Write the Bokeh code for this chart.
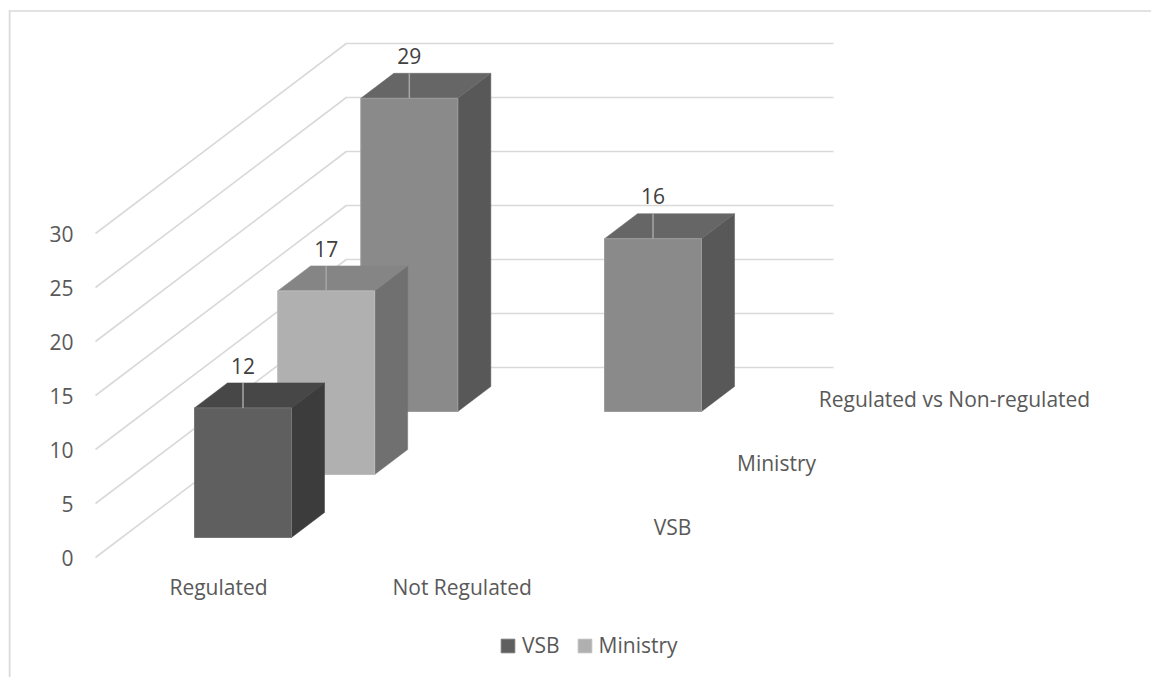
from bokeh.plotting import figure
from bokeh.models import Range1d, Legend, LegendItem, FixedTicker
from bokeh.core.properties import value
from bokeh.embed import file_html
from bokeh.resources import INLINE

# ---- chart data
categories = ["Regulated", "Not Regulated"]
series_names = ["VSB", "Ministry", "Regulated vs Non-regulated"]
vsb = [12, None]
ministry = [17, None]
reg_vs_non = [29, 16]
series_values = [vsb, ministry, reg_vs_non]
y_ticks = [0, 5, 10, 15, 20, 25, 30]

# ---- colours per series: front, top, side, front edge
front_cols = ["#5f5f5f", "#b0b0b0", "#8a8a8a"]
top_cols = ["#474747", "#858585", "#666666"]
side_cols = ["#3c3c3c", "#707070", "#585858"]
edge_cols = ["#767676", "#bdbdbd", "#9c9c9c"]
GRID = "#d9d9d9"
TXT = "#595959"
LBL = "#404040"
FONT = value("Open Sans")
FS = "21px"

# ---- projection (x axis in page pixels, y axis in chart values)
UNIT = 10.8          # px per value unit
Y0 = 557             # page y of value 0 on the front plane
SHEAR = 1.32         # x shift per px of depth
FLOOR_X0 = 95
WALL_D = 190         # depth of back wall, px
WALL_END = 833
BAR_W = 97
BAR_D = 25           # depth of one bar, px
FIRST_D = 20         # depth of the first bar's front
STEP_D = 63          # depth between series
FIRST_X = 167.6
CAT_STEP = 243.7
W, H = 1151, 677
LEFT = 8


def px(py):
    return (Y0 - py) / UNIT


def pt(x, v, d):
    """Point at screen-x x, value v, depth d px."""
    return x + SHEAR * d, v + d / UNIT


p = figure(width=W, height=H, output_backend="svg", toolbar_location=None,
           x_range=Range1d(LEFT, W), y_range=Range1d(px(H), px(0)),
           min_border_left=LEFT, min_border_right=0, min_border_top=0, min_border_bottom=0,
           x_axis_location=None, background_fill_color="white", border_fill_color="white",
           outline_line_color=None)
p.xgrid.visible = False
p.ygrid.visible = False

# value axis: its labels sit inside the frame, as in the original
ax = p.yaxis[0]
ax.ticker = FixedTicker(ticks=y_ticks)
ax.axis_line_color = None
ax.major_tick_line_color = None
ax.minor_tick_line_color = None
ax.major_label_standoff = -71
ax.major_label_text_font = "Open Sans"
ax.major_label_text_font_size = FS
ax.major_label_text_color = TXT

# chart box: left and top edges
p.line([LEFT + 1, LEFT + 1], [px(H), px(10.5)], line_color=GRID, line_width=2)
p.line([LEFT, W], [px(10.5), px(10.5)], line_color=GRID, line_width=1.5)

# gridlines: floor-to-wall diagonal, then along the back wall
gx, gy = [], []
for t in y_ticks:
    x1, y1 = pt(FLOOR_X0, t, 0)
    x2, y2 = pt(FLOOR_X0, t, WALL_D)
    gx.append([x1, x2, WALL_END])
    gy.append([y1, y2, y2])
p.multi_line(gx, gy, line_color=GRID, line_width=1.6)

# bars, from the back series to the front one
legend_items = {}
for s in [2, 1, 0]:
    front_x, front_y, top_x, top_y, side_x, side_y = [], [], [], [], [], []
    lead_x, lead_y, lab_x, lab_y, lab_t = [], [], [], [], []
    d = FIRST_D + s * STEP_D
    for c, v in enumerate(series_values[s]):
        if v is None:
            continue
        xl = FIRST_X + c * CAT_STEP
        xr = xl + BAR_W
        a = [pt(xl, 0, d), pt(xr, 0, d), pt(xr, v, d), pt(xl, v, d)]
        front_x.append([q[0] for q in a])
        front_y.append([q[1] for q in a])
        t = [pt(xl, v, d), pt(xr, v, d), pt(xr, v, d + BAR_D), pt(xl, v, d + BAR_D)]
        top_x.append([q[0] for q in t])
        top_y.append([q[1] for q in t])
        b = [pt(xr, 0, d), pt(xr, 0, d + BAR_D), pt(xr, v, d + BAR_D), pt(xr, v, d)]
        side_x.append([q[0] for q in b])
        side_y.append([q[1] for q in b])
        xm = (xl + xr) / 2
        m0 = pt(xm, v, d)
        m1 = pt(xm - SHEAR * BAR_D, v, d + BAR_D)
        lead_x.append([m0[0], m1[0]])
        lead_y.append([m0[1], m1[1]])
        lab_x.append(m0[0])
        lab_y.append(m1[1] + 1.6)
        lab_t.append(str(v))
    p.patches(side_x, side_y, fill_color=side_cols[s], line_color=side_cols[s], line_width=0.5)
    p.patches(top_x, top_y, fill_color=top_cols[s], line_color=top_cols[s], line_width=0.5)
    r = p.patches(front_x, front_y, fill_color=front_cols[s], line_color=edge_cols[s], line_width=1)
    legend_items[s] = r
    p.multi_line(lead_x, lead_y, line_color="#a6a6a6", line_width=1.5)
    p.text(lab_x, lab_y, text=lab_t, text_font=FONT, text_font_size=FS, text_color=LBL,
           text_align="center", text_baseline="middle")

# category labels under the floor
cat_x = [218 + i * CAT_STEP for i in range(len(categories))]
p.text(cat_x, [px(586)] * len(categories), text=categories, text_font=FONT, text_font_size=FS,
       text_color=TXT, text_align="center", text_baseline="middle")

# series labels along the depth axis
ser_x = [672, 776, 954]
ser_y = [px(526), px(462), px(398)]
p.text(ser_x, ser_y, text=series_names, text_font=FONT, text_font_size=FS,
       text_color=TXT, text_align="center", text_baseline="middle")

legend = Legend(items=[LegendItem(label=series_names[0], renderers=[legend_items[0]]),
                       LegendItem(label=series_names[1], renderers=[legend_items[1]])],
                orientation="horizontal", location=(491, 18), background_fill_alpha=0,
                border_line_color=None, padding=0, margin=0, spacing=16, label_standoff=6,
                glyph_width=17, glyph_height=17, label_text_font="Open Sans",
                label_text_font_size=FS, label_text_color=TXT)
p.add_layout(legend, "center")

open("out.html", "w").write(file_html(p, INLINE))
